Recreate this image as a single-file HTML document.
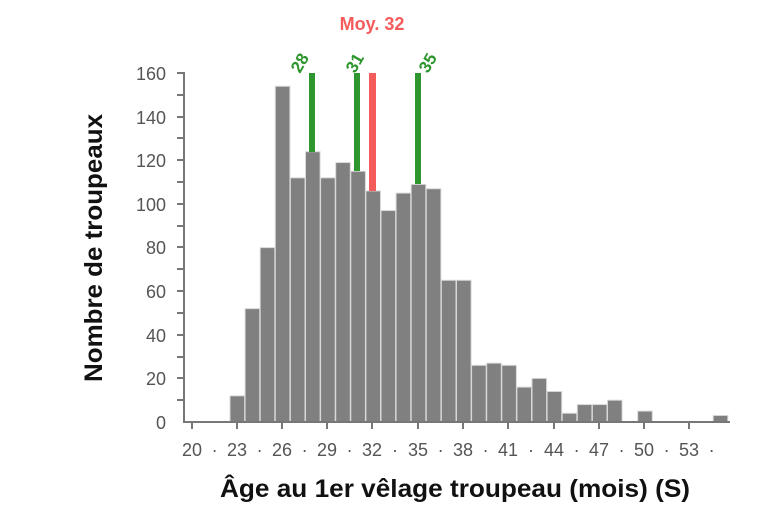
<!DOCTYPE html>
<html><head><meta charset="utf-8"><style>body{margin:0;background:#fff}svg{display:block;font-family:"Liberation Sans",Arial,sans-serif}</style></head><body>
<svg width="773" height="508" viewBox="0 0 773 508">
<g fill="#808080" stroke="#d8d8d8" stroke-width="1">
<rect x="230.0" y="395.84" width="14.6" height="26.16"/>
<rect x="245.1" y="308.64" width="14.6" height="113.36"/>
<rect x="260.2" y="247.6" width="14.6" height="174.4"/>
<rect x="275.3" y="86.28" width="14.6" height="335.72"/>
<rect x="290.4" y="177.84" width="14.6" height="244.16"/>
<rect x="305.5" y="151.68" width="14.6" height="270.32"/>
<rect x="320.6" y="177.84" width="14.6" height="244.16"/>
<rect x="335.7" y="162.58" width="14.6" height="259.42"/>
<rect x="350.8" y="171.3" width="14.6" height="250.7"/>
<rect x="365.9" y="190.92" width="14.6" height="231.08"/>
<rect x="381.0" y="210.54" width="14.6" height="211.46"/>
<rect x="396.1" y="193.1" width="14.6" height="228.9"/>
<rect x="411.2" y="184.38" width="14.6" height="237.62"/>
<rect x="426.3" y="188.74" width="14.6" height="233.26"/>
<rect x="441.4" y="280.3" width="14.6" height="141.7"/>
<rect x="456.5" y="280.3" width="14.6" height="141.7"/>
<rect x="471.6" y="365.32" width="14.6" height="56.68"/>
<rect x="486.7" y="363.14" width="14.6" height="58.86"/>
<rect x="501.8" y="365.32" width="14.6" height="56.68"/>
<rect x="516.9" y="387.12" width="14.6" height="34.88"/>
<rect x="532.0" y="378.4" width="14.6" height="43.6"/>
<rect x="547.1" y="391.48" width="14.6" height="30.52"/>
<rect x="562.2" y="413.28" width="14.6" height="8.72"/>
<rect x="577.3" y="404.56" width="14.6" height="17.44"/>
<rect x="592.4" y="404.56" width="14.6" height="17.44"/>
<rect x="607.5" y="400.2" width="14.6" height="21.8"/>
<rect x="637.7" y="411.1" width="14.6" height="10.9"/>
<rect x="713.2" y="415.46" width="14.6" height="6.54"/>
</g>
<rect x="309" y="73" width="6" height="79" fill="#2e962e"/>
<rect x="354" y="73" width="6" height="98" fill="#2e962e"/>
<rect x="369" y="73" width="7" height="118" fill="#f55b5b"/>
<rect x="415" y="73" width="6" height="111" fill="#2e962e"/>
<g font-size="17" font-weight="bold" fill="#2e962e">
<text transform="translate(300,74) rotate(-60)">28</text>
<text transform="translate(355,74) rotate(-60)">31</text>
<text transform="translate(428,74) rotate(-60)">35</text>
</g>
<text x="372" y="30" font-size="18" font-weight="bold" fill="#f55b5b" text-anchor="middle">Moy. 32</text>
<line x1="184" y1="72" x2="184" y2="423" stroke="#777" stroke-width="2"/>
<line x1="183" y1="422" x2="730" y2="422" stroke="#777" stroke-width="2"/>
<g stroke="#777" stroke-width="2">
<line x1="177" y1="73" x2="184" y2="73"/><line x1="177" y1="95" x2="184" y2="95"/><line x1="177" y1="117" x2="184" y2="117"/><line x1="177" y1="138" x2="184" y2="138"/><line x1="177" y1="160" x2="184" y2="160"/><line x1="177" y1="182" x2="184" y2="182"/><line x1="177" y1="204" x2="184" y2="204"/><line x1="177" y1="226" x2="184" y2="226"/><line x1="177" y1="247" x2="184" y2="247"/><line x1="177" y1="269" x2="184" y2="269"/><line x1="177" y1="291" x2="184" y2="291"/><line x1="177" y1="313" x2="184" y2="313"/><line x1="177" y1="335" x2="184" y2="335"/><line x1="177" y1="357" x2="184" y2="357"/><line x1="177" y1="378" x2="184" y2="378"/><line x1="177" y1="400" x2="184" y2="400"/>
<line x1="192" y1="422" x2="192" y2="429"/><line x1="237" y1="422" x2="237" y2="429"/><line x1="282" y1="422" x2="282" y2="429"/><line x1="327" y1="422" x2="327" y2="429"/><line x1="372" y1="422" x2="372" y2="429"/><line x1="418" y1="422" x2="418" y2="429"/><line x1="463" y1="422" x2="463" y2="429"/><line x1="508" y1="422" x2="508" y2="429"/><line x1="554" y1="422" x2="554" y2="429"/><line x1="599" y1="422" x2="599" y2="429"/><line x1="644" y1="422" x2="644" y2="429"/><line x1="689" y1="422" x2="689" y2="429"/>
</g>
<g font-size="18" fill="#555" text-anchor="end">
<text x="166" y="80">160</text><text x="166" y="124">140</text><text x="166" y="167">120</text><text x="166" y="211">100</text><text x="166" y="254">80</text><text x="166" y="298">60</text><text x="166" y="342">40</text><text x="166" y="385">20</text><text x="166" y="429">0</text>
</g>
<g font-size="18" fill="#555" text-anchor="middle">
<text x="192" y="456">20</text><text x="237" y="456">23</text><text x="282" y="456">26</text><text x="327" y="456">29</text><text x="372" y="456">32</text><text x="418" y="456">35</text><text x="463" y="456">38</text><text x="508" y="456">41</text><text x="554" y="456">44</text><text x="599" y="456">47</text><text x="644" y="456">50</text><text x="689" y="456">53</text>
<text x="214.6" y="456">·</text><text x="259.6" y="456">·</text><text x="304.6" y="456">·</text><text x="349.6" y="456">·</text><text x="395" y="456">·</text><text x="440.6" y="456">·</text><text x="485.6" y="456">·</text><text x="531" y="456">·</text><text x="576.6" y="456">·</text><text x="621.6" y="456">·</text><text x="666.6" y="456">·</text><text x="711.6" y="456">·</text>
</g>
<text x="455" y="497" font-size="25" font-weight="bold" fill="#111" text-anchor="middle" textLength="470" lengthAdjust="spacingAndGlyphs">Âge au 1er vêlage troupeau (mois) (S)</text>
<text transform="translate(102,248) rotate(-90)" font-size="25" font-weight="bold" fill="#111" text-anchor="middle" textLength="268" lengthAdjust="spacingAndGlyphs">Nombre de troupeaux</text>
</svg>
</body></html>
